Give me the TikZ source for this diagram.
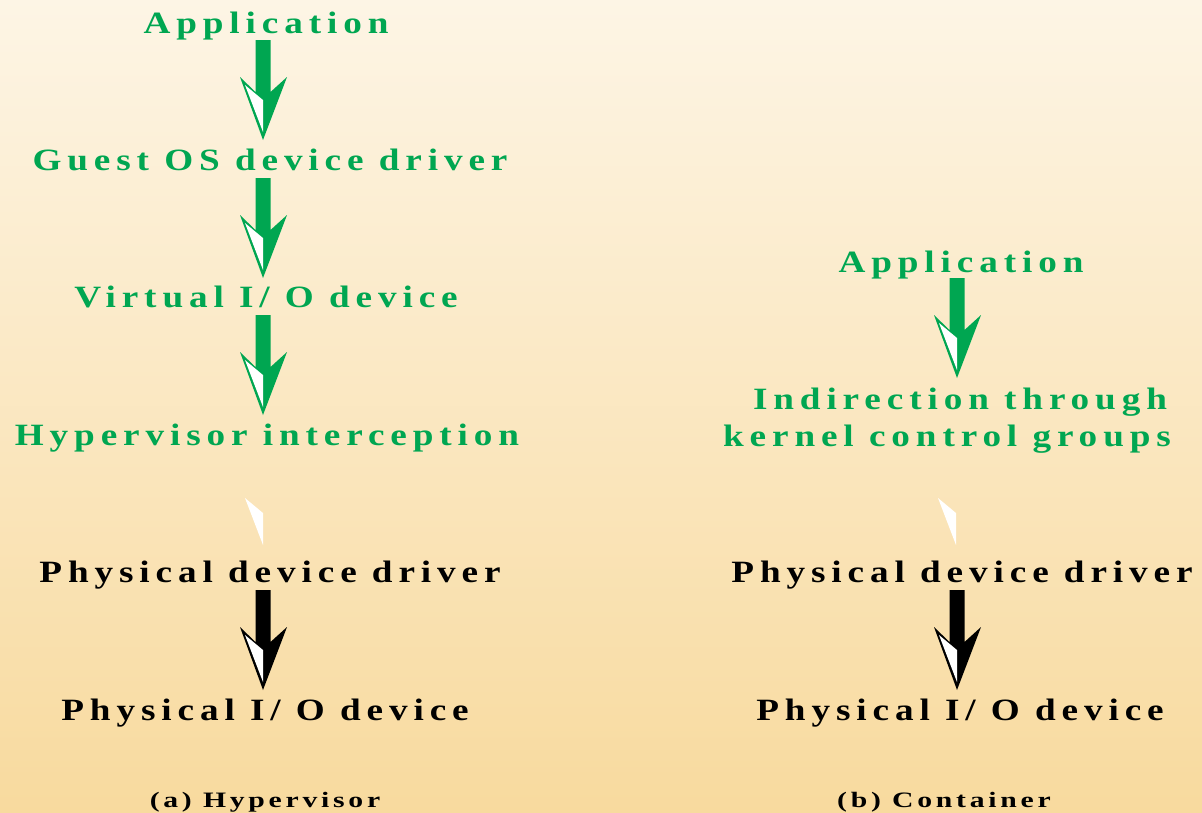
\documentclass[tikz,border=0pt]{standalone}
\usepackage{fontspec}
\newfontfamily\lblfont[LetterSpace=19,FakeStretch=1.2]{Liberation Serif}
\newfontfamily\capfont[LetterSpace=17,FakeStretch=1.35]{Liberation Serif}
\definecolor{grn}{RGB}{0,166,81}
\definecolor{bgtop}{RGB}{253,245,229}
\definecolor{bgbot}{RGB}{248,218,158}
\begin{document}
\begin{tikzpicture}[x=1pt,y=-1pt,
  lbl/.style={anchor=base,inner sep=0pt,font=\lblfont\bfseries\fontsize{31}{33}\selectfont},
  gl/.style={lbl,text=grn},
  bl/.style={lbl,text=black},
  captext/.style={anchor=base,inner sep=0pt,font=\capfont\bfseries\fontsize{22}{24}\selectfont},
  arrowpic/.pic={
    \fill[pic actions] (-7.5,0) -- (7.5,0) -- (7.5,52) -- (24,37) -- (0,100) -- (-23,37) -- (-7.5,52) -- cycle;
    \fill[white] (-18,45) -- (0,60) -- (0,92) -- cycle;
  },
  ghostpic/.pic={
    \fill[white] (-18,45) -- (0,60) -- (0,92) -- cycle;
  }]
\useasboundingbox (0,0) rectangle (1202,812);
\shade[top color=bgtop,bottom color=bgbot] (0,0) rectangle (1202,812);

% left column
\node[gl] (a1) at (266,33) {Application};
\node[gl] (a2) at (270,170) {Guest OS device driver};
\node[gl] (a3) at (266,307) {Virtual I/ O device};
\node[gl] (a4) at (267,445) {Hypervisor interception};
\node[bl] (a5) at (270,582) {Physical device driver};
\node[bl] (a6) at (265,720) {Physical I/ O device};
\node[captext] (ca) at (265,807) {(a) Hypervisor};

\pic[fill=grn] (ar1) at (263,40) {arrowpic};
\pic[fill=grn] (ar2) at (263,178) {arrowpic};
\pic[fill=grn] (ar3) at (263,315) {arrowpic};
\pic (ar4) at (263,453) {ghostpic};
\pic[fill=black] (ar5) at (263,590) {arrowpic};

% right column
\node[gl] (b1) at (961,272) {Application};
\node[gl] (b2) at (960,409) {Indirection through};
\node[gl] (b2b) at (947,446) {kernel control groups};
\node[bl] (b3) at (962,582) {Physical device driver};
\node[bl] (b4) at (960,720) {Physical I/ O device};
\node[captext] (cb) at (944,807) {(b) Container};

\pic[fill=grn] (br1) at (957,278) {arrowpic};
\pic (br2) at (956,453) {ghostpic};
\pic[fill=black] (br3) at (957,590) {arrowpic};
\end{tikzpicture}
\end{document}
